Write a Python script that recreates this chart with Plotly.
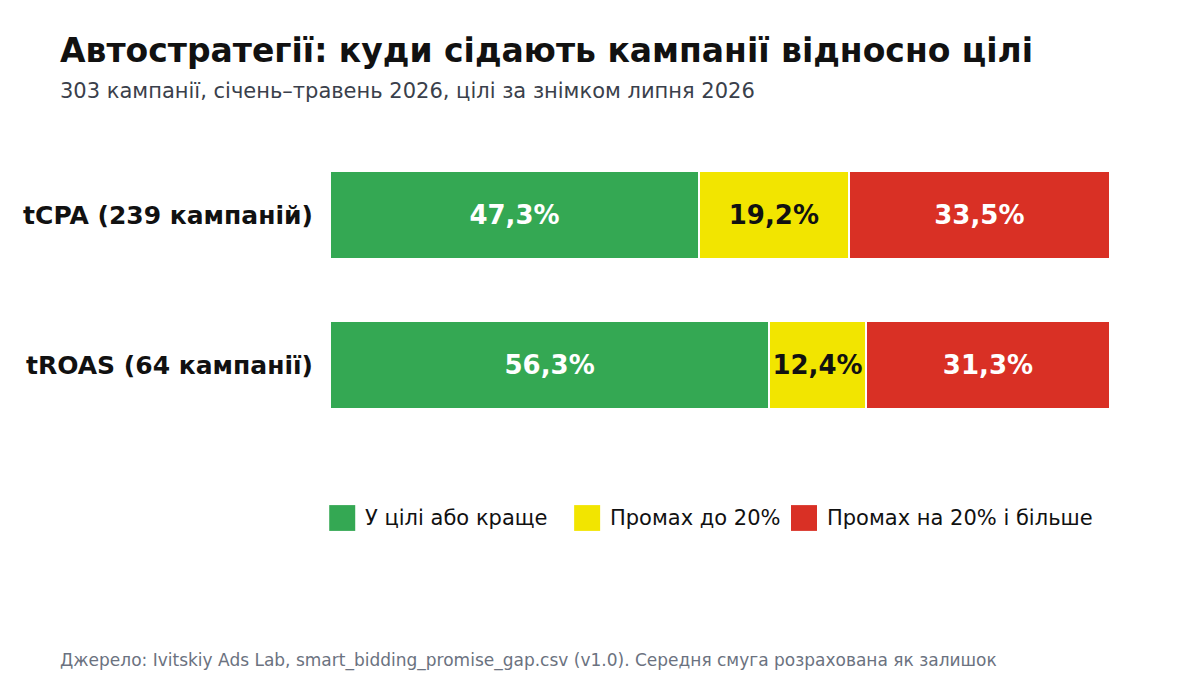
import plotly.graph_objects as go

# Data
groups = ["tCPA (239 кампаній)", "tROAS (64 кампанії)"]
series_names = ["У цілі або краще", "Промах до 20%", "Промах на 20% і більше"]
on_target = [47.3, 56.3]
miss_small = [19.2, 12.4]
miss_big = [33.5, 31.3]

colors = ["#34a853", "#f2e500", "#d93025"]
text_colors = ["white", "#111111", "white"]


def fmt(v):
    return f"{v:.1f}".replace(".", ",") + "%"


fig = go.Figure()
for name, vals, c, tc in zip(series_names, [on_target, miss_small, miss_big], colors, text_colors):
    fig.add_trace(go.Bar(
        y=groups, x=vals, name=name, orientation="h",
        marker=dict(color=c, line=dict(color="white", width=2)),
        text=[fmt(v) for v in vals], textposition="inside",
        insidetextanchor="middle",
        textfont=dict(family="DejaVu Sans", size=26, color=tc, weight="bold"),
        showlegend=False,
    ))

# hand-made legend (large square swatches)
legend_x = [-0.001, 0.313, 0.591]
for i, (name, c) in enumerate(zip(series_names, colors)):
    fig.add_shape(type="rect", xref="paper", yref="paper",
                  x0=legend_x[i], x1=legend_x[i] + 26 / 780,
                  y0=-0.217, y1=-0.303, fillcolor=c, line_width=0)
    fig.add_annotation(xref="paper", yref="paper", x=legend_x[i] + 34 / 780, y=-0.26,
                       text=name, showarrow=False, xanchor="left", yanchor="middle",
                       font=dict(family="DejaVu Sans", size=21, color="#111111"))

fig.add_annotation(xref="paper", yref="paper", x=(50 - 322) / 780, y=(432 - 83) / 300,
                   text="303 кампанії, січень–травень 2026, цілі за знімком липня 2026",
                   showarrow=False, xanchor="left", yanchor="middle",
                   font=dict(family="DejaVu Sans", size=21, color="#3a3f4b"))
fig.add_annotation(xref="paper", yref="paper", x=(50 - 322) / 780, y=(432 - 652) / 300,
                   text="Джерело: Ivitskiy Ads Lab, smart_bidding_promise_gap.csv (v1.0). Середня смуга розрахована як залишок",
                   showarrow=False, xanchor="left", yanchor="middle",
                   font=dict(family="DejaVu Sans", size=17, color="#6b7280"))

fig.update_layout(
    width=1200, height=700,
    barmode="stack", bargap=0.413,
    paper_bgcolor="white", plot_bgcolor="white",
    margin=dict(l=322, r=98, t=132, b=268),
    font=dict(family="DejaVu Sans", color="#111111"),
    title=dict(text="<b>Автостратегії: куди сідають кампанії відносно цілі</b>",
               x=52 / 1200, xanchor="left", xref="container",
               y=1 - 42 / 700, yanchor="middle", yref="container",
               font=dict(family="DejaVu Sans", size=33, color="#111111")),
    uniformtext=dict(minsize=26, mode="show"),
    xaxis=dict(range=[0, 100], visible=False, fixedrange=True),
    yaxis=dict(autorange="reversed", showgrid=False, showline=False, ticks="",
               ticklabelstandoff=16,
               tickfont=dict(family="DejaVu Sans", size=25, color="#111111", weight="bold")),
)

fig.write_html("out.html")
